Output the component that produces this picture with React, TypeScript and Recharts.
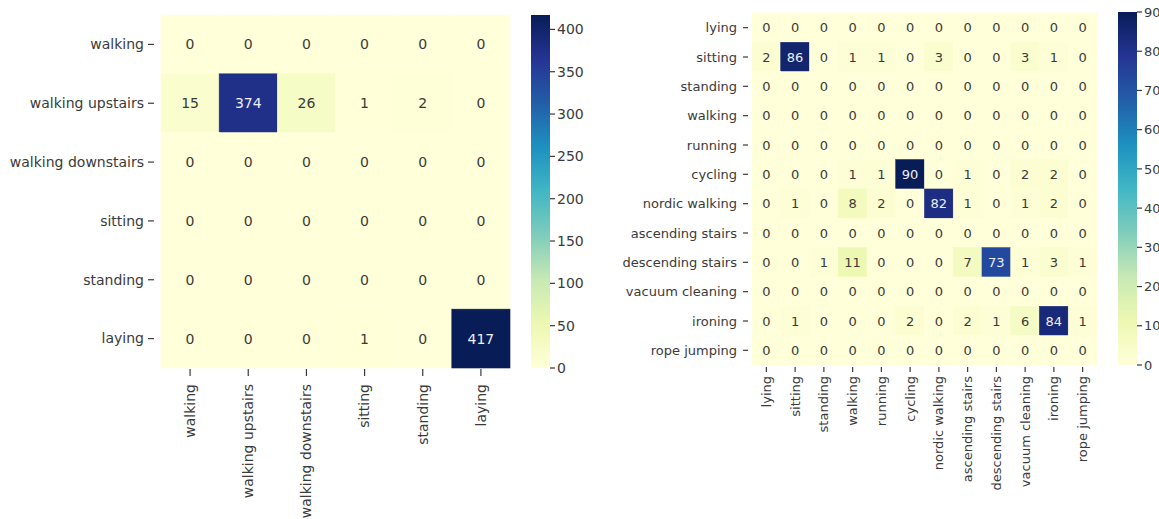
import React from 'react';
import { ScatterChart, Scatter, XAxis, YAxis, ComposedChart, Bar } from 'recharts';

// ---- HAR dataset (6 classes) ----
const harLabels = ['walking', 'walking upstairs', 'walking downstairs', 'sitting', 'standing', 'laying'];
const harMatrix: number[][] = [
  [0, 0, 0, 0, 0, 0],
  [15, 374, 26, 1, 2, 0],
  [0, 0, 0, 0, 0, 0],
  [0, 0, 0, 0, 0, 0],
  [0, 0, 0, 0, 0, 0],
  [0, 0, 0, 1, 0, 417],
];
const harScaleMax = 417;
const harScaleTicks = [0, 50, 100, 150, 200, 250, 300, 350, 400];

// ---- PAMAP2 dataset (12 classes) ----
const pamapLabels = [
  'lying', 'sitting', 'standing', 'walking', 'running', 'cycling', 'nordic walking',
  'ascending stairs', 'descending stairs', 'vacuum cleaning', 'ironing', 'rope jumping',
];
const pamapMatrix: number[][] = [
  [0, 0, 0, 0, 0, 0, 0, 0, 0, 0, 0, 0],
  [2, 86, 0, 1, 1, 0, 3, 0, 0, 3, 1, 0],
  [0, 0, 0, 0, 0, 0, 0, 0, 0, 0, 0, 0],
  [0, 0, 0, 0, 0, 0, 0, 0, 0, 0, 0, 0],
  [0, 0, 0, 0, 0, 0, 0, 0, 0, 0, 0, 0],
  [0, 0, 0, 1, 1, 90, 0, 1, 0, 2, 2, 0],
  [0, 1, 0, 8, 2, 0, 82, 1, 0, 1, 2, 0],
  [0, 0, 0, 0, 0, 0, 0, 0, 0, 0, 0, 0],
  [0, 0, 1, 11, 0, 0, 0, 7, 73, 1, 3, 1],
  [0, 0, 0, 0, 0, 0, 0, 0, 0, 0, 0, 0],
  [0, 1, 0, 0, 0, 2, 0, 2, 1, 6, 84, 1],
  [0, 0, 0, 0, 0, 0, 0, 0, 0, 0, 0, 0],
];
const pamapScaleMax = 90;
const pamapScaleTicks = [0, 10, 20, 30, 40, 50, 60, 70, 80, 90];

// YlGnBu colour ramp
const YLGNBU = ['#ffffd9', '#edf8b1', '#c7e9b4', '#7fcdbb', '#41b6c4', '#1d91c0', '#225ea8', '#253494', '#081d58'];

const hexToRgb = (h: string) => [1, 3, 5].map((i) => parseInt(h.slice(i, i + 2), 16));

function ylgnbu(t: number): [number, number, number] {
  const c = Math.max(0, Math.min(1, t)) * (YLGNBU.length - 1);
  const i = Math.min(Math.floor(c), YLGNBU.length - 2);
  const f = c - i;
  const a = hexToRgb(YLGNBU[i]);
  const b = hexToRgb(YLGNBU[i + 1]);
  return [0, 1, 2].map((k) => Math.round(a[k] + (b[k] - a[k]) * f)) as [number, number, number];
}

function luminance([r, g, b]: [number, number, number]) {
  const lin = (v: number) => {
    const s = v / 255;
    return s <= 0.03928 ? s / 12.92 : Math.pow((s + 0.055) / 1.055, 2.4);
  };
  return 0.2126 * lin(r) + 0.7152 * lin(g) + 0.0722 * lin(b);
}

const FONT = '"DejaVu Sans", Verdana, sans-serif';
const TEXT = '#3a3a3a';

type HeatProps = {
  labels: string[];
  matrix: number[][];
  max: number;
  width: number;
  height: number;
  plotLeft: number;
  plotRight: number;
  plotTop: number;
  plotBottom: number;
  fontSize: number;
  yTickGap: [number, number, number]; // text end, tick start, tick end (offsets from plot left)
  xTickGap: [number, number, number]; // tick start, tick end, text start (offsets below plot)
};

function Heatmap(p: HeatProps) {
  const n = p.labels.length;
  const cellW = (p.plotRight - p.plotLeft) / n;
  const cellH = (p.plotBottom - p.plotTop) / n;
  const cells = p.matrix.flatMap((row, r) => row.map((value, c) => ({ row: r, col: c, value })));
  const idx = p.labels.map((_, i) => i);

  const CellShape = (props: any) => {
    const { cx, cy, payload } = props;
    const rgb = ylgnbu(payload.value / p.max);
    const dark = luminance(rgb) <= 0.408;
    return (
      <g>
        <rect
          x={cx - cellW / 2}
          y={cy - cellH / 2}
          width={cellW}
          height={cellH}
          fill={`rgb(${rgb.join(',')})`}
          stroke={`rgb(${rgb.join(',')})`}
          strokeWidth={0.6}
        />
        <text
          x={cx}
          y={cy}
          dy="0.36em"
          textAnchor="middle"
          fontSize={p.fontSize}
          fontFamily={FONT}
          fill={dark ? '#eeeef6' : TEXT}
        >
          {payload.value}
        </text>
      </g>
    );
  };

  const YTick = (props: any) => {
    const { y, payload } = props;
    const [te, ts, tEnd] = p.yTickGap;
    return (
      <g>
        <line x1={p.plotLeft - ts} x2={p.plotLeft - tEnd} y1={y} y2={y} stroke={TEXT} strokeWidth={1.2} />
        <text
          x={p.plotLeft - te}
          y={y}
          dy="0.35em"
          textAnchor="end"
          fontSize={p.fontSize}
          fontFamily={FONT}
          fill={TEXT}
        >
          {p.labels[payload.value]}
        </text>
      </g>
    );
  };

  const XTick = (props: any) => {
    const { x, payload } = props;
    const [ts, tEnd, tx] = p.xTickGap;
    const ty = p.plotBottom + tx;
    return (
      <g>
        <line x1={x} x2={x} y1={p.plotBottom + ts} y2={p.plotBottom + tEnd} stroke={TEXT} strokeWidth={1.2} />
        <text
          x={x}
          y={ty}
          dy="0.35em"
          textAnchor="end"
          transform={`rotate(-90 ${x} ${ty})`}
          fontSize={p.fontSize}
          fontFamily={FONT}
          fill={TEXT}
        >
          {p.labels[payload.value]}
        </text>
      </g>
    );
  };

  return (
    <ScatterChart
      width={p.width}
      height={p.height}
      margin={{ top: p.plotTop, right: p.width - p.plotRight, bottom: 0, left: 0 }}
    >
      <XAxis
        type="number"
        dataKey="col"
        domain={[-0.5, n - 0.5]}
        ticks={idx}
        interval={0}
        axisLine={false}
        tickLine={false}
        height={p.height - p.plotBottom}
        tick={<XTick />}
      />
      <YAxis
        type="number"
        dataKey="row"
        domain={[-0.5, n - 0.5]}
        reversed
        ticks={idx}
        interval={0}
        axisLine={false}
        tickLine={false}
        width={p.plotLeft}
        tick={<YTick />}
      />
      <Scatter data={cells} shape={<CellShape />} isAnimationActive={false} />
    </ScatterChart>
  );
}

type BarScaleProps = {
  id: string;
  max: number;
  ticks: number[];
  top: number;
  bottom: number;
  height: number;
  width: number;
  barWidth: number;
  fontSize: number;
};

function ColorScale(p: BarScaleProps) {
  const data = [{ name: 'scale', v: p.max }];
  return (
    <ComposedChart
      width={p.width}
      height={p.height}
      data={data}
      barCategoryGap={0}
      barGap={0}
      margin={{ top: p.top, bottom: p.height - p.bottom, left: 0, right: 0 }}
    >
      <defs>
        <linearGradient id={p.id} x1="0" y1="1" x2="0" y2="0">
          {YLGNBU.map((c, i) => (
            <stop key={i} offset={i / (YLGNBU.length - 1)} stopColor={c} />
          ))}
        </linearGradient>
      </defs>
      <XAxis dataKey="name" hide />
      <YAxis
        orientation="right"
        type="number"
        domain={[0, p.max]}
        ticks={p.ticks}
        interval={0}
        axisLine={false}
        tickSize={5}
        tickMargin={2}
        tickLine={{ stroke: TEXT, strokeWidth: 1.2 }}
        tick={{ fill: TEXT, fontSize: p.fontSize, fontFamily: FONT }}
        width={p.width - p.barWidth}
      />
      <Bar dataKey="v" fill={`url(#${p.id})`} isAnimationActive={false} />
    </ComposedChart>
  );
}

export default function App() {
  return (
    <div
      style={{
        position: 'absolute',
        left: 0,
        top: 0,
        width: 1159,
        height: 519,
        overflow: 'hidden',
        background: '#ffffff',
      }}
    >
      <div style={{ position: 'absolute', left: 0, top: 0 }}>
        <Heatmap
          labels={harLabels}
          matrix={harMatrix}
          max={harScaleMax}
          width={520}
          height={519}
          plotLeft={161}
          plotRight={510}
          plotTop={15}
          plotBottom={368}
          fontSize={14}
          yTickGap={[17, 13, 7]}
          xTickGap={[1, 8, 16]}
        />
      </div>
      <div style={{ position: 'absolute', left: 531, top: 0 }}>
        <ColorScale
          id="harScale"
          max={harScaleMax}
          ticks={harScaleTicks}
          top={15}
          bottom={368}
          height={519}
          width={70}
          barWidth={19}
          fontSize={14}
        />
      </div>
      <div style={{ position: 'absolute', left: 560, top: 0 }}>
        <Heatmap
          labels={pamapLabels}
          matrix={pamapMatrix}
          max={pamapScaleMax}
          width={550}
          height={519}
          plotLeft={192}
          plotRight={537}
          plotTop={13}
          plotBottom={365}
          fontSize={13}
          yTickGap={[15, 9, 4]}
          xTickGap={[2, 7, 11]}
        />
      </div>
      <div style={{ position: 'absolute', left: 1118, top: 0 }}>
        <ColorScale
          id="pamapScale"
          max={pamapScaleMax}
          ticks={pamapScaleTicks}
          top={12}
          bottom={365}
          height={519}
          width={60}
          barWidth={19}
          fontSize={13}
        />
      </div>
    </div>
  );
}
